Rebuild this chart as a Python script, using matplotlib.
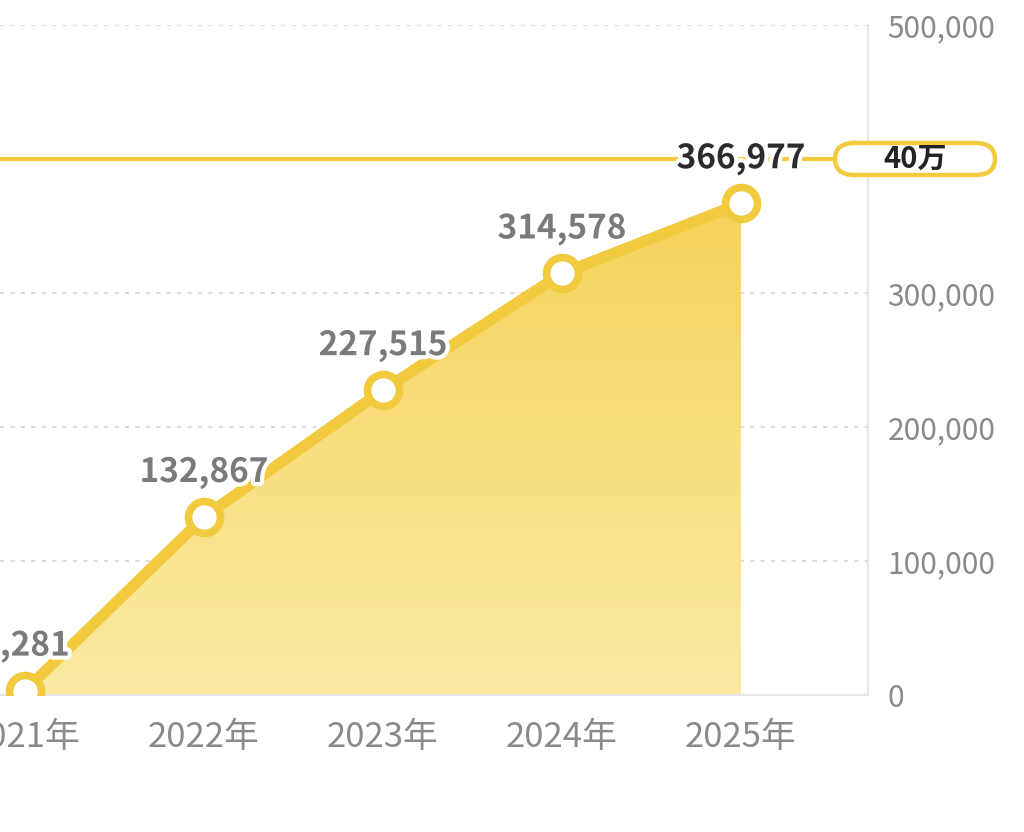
import matplotlib.pyplot as plt
import matplotlib.patheffects as pe
from matplotlib.colors import LinearSegmentedColormap
from matplotlib.patches import Polygon, FancyBboxPatch
import numpy as np

plt.rcParams['font.family'] = ['Noto Sans CJK JP', 'DejaVu Sans']

years = [2021, 2022, 2023, 2024, 2025]
year_labels = ['2021年', '2022年', '2023年', '2024年', '2025年']
values = [3281, 132867, 227515, 314578, 366977]
target = 400000
target_label = '40万'
yticks = [0, 100000, 200000, 300000, 400000, 500000]

yellow = '#F2CA3E'
grid_c = '#DDDDDD'

W, H = 1024, 832
fig = plt.figure(figsize=(W / 100, H / 100), dpi=100)
ax = fig.add_axes([0.0, 1 - 695 / H, 868 / W, (695 - 25) / H])
xlim = (2021 - 25 / 179, 2021 + 843 / 179)

# dotted horizontal grid
for v in yticks[1:]:
    if v == target:
        continue
    ax.axhline(v, color=grid_c, lw=1.5, ls=(0, (2, 3)), zorder=0)

# gradient area under the line
cmap = LinearSegmentedColormap.from_list('fillgrad', ['#FAEAA3', '#F5D35A'])
grad = np.linspace(0, 1, 256).reshape(-1, 1)
im = ax.imshow(grad, cmap=cmap, origin='lower', aspect='auto',
               extent=[years[0], years[-1], 0, max(values)], zorder=1)
poly = Polygon(list(zip(years, values)) + [(years[-1], 0), (years[0], 0)],
               closed=True, transform=ax.transData, facecolor='none', edgecolor='none')
ax.add_patch(poly)
im.set_clip_path(poly)
ax.set_xlim(*xlim)
ax.set_ylim(0, 500000)

# target line running into the pill label
pill_x0, pill_x1 = 835 / W, 995 / W
ty = ax.transData.transform((0, target))[1] / H
ax.plot([xlim[0], xlim[0] + 835 / 179], [target, target], color=yellow, lw=3,
        zorder=2, solid_capstyle='butt', clip_on=False)
ph = 32 / H
pill = FancyBboxPatch((pill_x0, ty - ph / 2), pill_x1 - pill_x0, ph,
                      boxstyle=f'round,pad=0,rounding_size={ph / 2}',
                      transform=fig.transFigure, fc='white', ec=yellow, lw=3.2,
                      zorder=6)
fig.add_artist(pill)
fig.text((pill_x0 + pill_x1) / 2, ty, target_label, ha='center', va='center',
         fontsize=21, fontweight='bold', color='#222222', zorder=7)

# main line with markers
ax.plot(years, values, color=yellow, lw=8, zorder=3, solid_joinstyle='round')
ax.plot(years, values, ls='none', marker='o', ms=23, mfc='white', mec=yellow,
        mew=5.5, zorder=4)

for i, (x, v) in enumerate(zip(years, values)):
    last = i == len(values) - 1
    ax.annotate(f'{v:,}', xy=(x, v), xytext=(0, 35), textcoords='offset pixels',
                ha='center', va='baseline', fontsize=24, fontweight='bold',
                color='#2B2B2B' if last else '#7A7A7A', zorder=5,
                path_effects=[pe.withStroke(linewidth=6, foreground='white')])

# axes styling
for s in ['top', 'left']:
    ax.spines[s].set_visible(False)
ax.spines['right'].set_color('#E6E6E6')
ax.spines['bottom'].set_color('#E6E6E6')
ax.spines['right'].set_linewidth(1.5)
ax.spines['bottom'].set_linewidth(1.5)
ax.yaxis.tick_right()
ax.set_yticks([v for v in yticks if v != target])
ax.set_yticklabels([f'{v:,}' for v in yticks if v != target])
ax.tick_params(axis='y', length=0, pad=14, labelsize=21.5, labelcolor='#8A8A8A')
ax.set_xticks(years)
ax.set_xticklabels(year_labels)
ax.tick_params(axis='x', length=0, pad=18, labelsize=25, labelcolor='#8A8A8A')

fig.savefig('out.png', dpi=100)
